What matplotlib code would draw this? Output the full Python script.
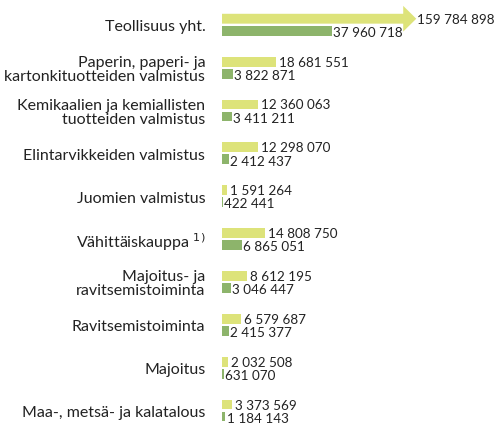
import matplotlib
matplotlib.use("Agg")
import matplotlib.pyplot as plt
from matplotlib.patches import Polygon
import numpy as np

plt.rcParams['font.family'] = ['Lato', 'DejaVu Sans']

categories = [
    "Teollisuus yht.",
    "Paperin, paperi- ja\nkartonkituotteiden valmistus",
    "Kemikaalien ja kemiallisten\ntuotteiden valmistus",
    "Elintarvikkeiden valmistus",
    "Juomien valmistus",
    "Vähittäiskauppa $^{1)}$",
    "Majoitus- ja\nravitsemistoiminta",
    "Ravitsemistoiminta",
    "Majoitus",
    "Maa-, metsä- ja kalatalous",
]
series_a = [159784898, 18681551, 12360063, 12298070, 1591264,
            14808750, 8612195, 6579687, 2032508, 3373569]
series_b = [37960718, 3822871, 3411211, 2412437, 422441,
            6865051, 3046447, 2415377, 631070, 1184143]

col_a = "#dde37a"
col_b = "#8db46b"

def fmt(v):
    return f"{v:,}".replace(",", " ")

fig = plt.figure(figsize=(4.96, 4.27), dpi=100)
ax = fig.add_axes([0.4476, 0.0, 0.5524, 1.0])

xmax = 94.5e6
cap = 62.5e6  # where the clipped bar is broken into an arrow
y = np.arange(len(categories))
off = 0.14
h = 0.23
vfs = 9.7

for i, (a, b) in enumerate(zip(series_a, series_b)):
    ya = i - off
    yb = i + off
    if a > cap:
        # clipped bar drawn as arrow
        head_len = 4.5e6
        head_h = 0.6
        pts = [(0, ya - h / 2), (cap, ya - h / 2), (cap, ya - head_h / 2),
               (cap + head_len, ya), (cap, ya + head_h / 2),
               (cap, ya + h / 2), (0, ya + h / 2)]
        ax.add_patch(Polygon(pts, closed=True, facecolor=col_a, edgecolor="none"))
        ax.text(cap + head_len + 0.2e6, ya, fmt(a), va="center", ha="left",
                fontsize=vfs, color="#222222")
    else:
        ax.barh(ya, a, height=h, color=col_a, left=0)
        ax.text(a + 1.1e6, ya, fmt(a), va="center", ha="left",
                fontsize=vfs, color="#222222")
    ax.barh(yb, b, height=h, color=col_b, left=0)
    ax.text(b + 0.4e6, yb + 0.03, fmt(b), va="center", ha="left",
            fontsize=vfs, color="#222222")

ax.set_xlim(0, xmax)
ax.set_ylim(9.36, -0.6)
ax.set_yticks(y)
ax.set_yticklabels(categories, fontsize=11.5, color="#222222", linespacing=1.0)
ax.tick_params(axis="y", length=0, pad=12)
ax.set_xticks([])
for s in ax.spines.values():
    s.set_visible(False)

fig.savefig("out.png", dpi=100)
